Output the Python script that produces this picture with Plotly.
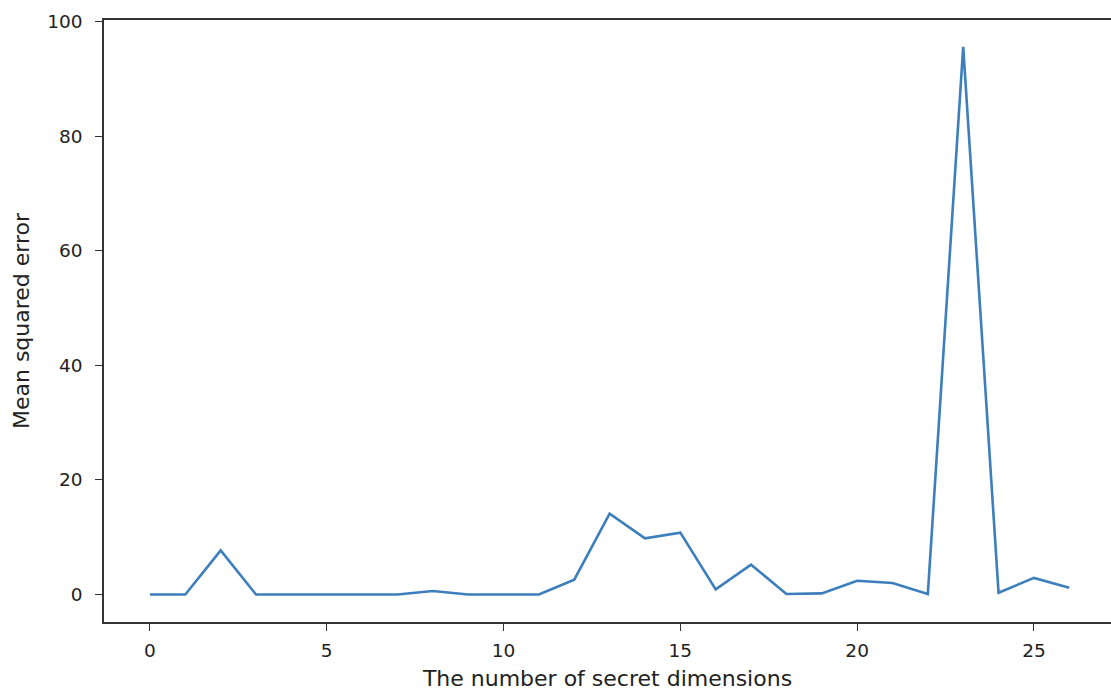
import plotly.graph_objects as go

x_dims = list(range(27))
mse = [0.0, 0.0, 7.7, 0.0, 0.0, 0.0, 0.0, 0.0, 0.6, 0.0,
       0.0, 0.0, 2.6, 14.1, 9.8, 10.8, 0.9, 5.2, 0.1, 0.2,
       2.4, 2.0, 0.1, 95.6, 0.3, 2.9, 1.2]
x_ticks = [0, 5, 10, 15, 20, 25]
y_ticks = [0, 20, 40, 60, 80, 100]

fig = go.Figure()
fig.add_trace(go.Scatter(x=x_dims, y=mse, mode="lines",
                         line=dict(color="#3d7ebd", width=2.6)))

axis_common = dict(showgrid=False, zeroline=False, showline=True,
                   linecolor="#333333", linewidth=1.5, ticks="outside",
                   ticklen=7, tickwidth=1.3, tickcolor="#333333",
                   tickfont=dict(family="DejaVu Sans", size=18.5, color="#222222"))

title_font = dict(family="DejaVu Sans", size=22, color="#222222")

fig.update_layout(
    width=1111, height=691,
    margin=dict(l=104, r=0, t=20, b=69),
    paper_bgcolor="white", plot_bgcolor="white",
    showlegend=False,
    xaxis=dict(range=[-1.3, 27.18], tickvals=x_ticks, mirror=True,
               ticklabelstandoff=4,
               title=dict(text="The number of secret dimensions",
                          font=title_font, standoff=13),
               **axis_common),
    yaxis=dict(range=[-4.8, 100.3], tickvals=y_ticks,
               ticklabelstandoff=9,
               title=dict(text="Mean squared error",
                          font=title_font, standoff=12),
               **axis_common),
)
fig.write_html("out.html",
               config={"displayModeBar": False},
               post_script="document.body.style.margin='0';document.body.style.overflow='hidden';")
